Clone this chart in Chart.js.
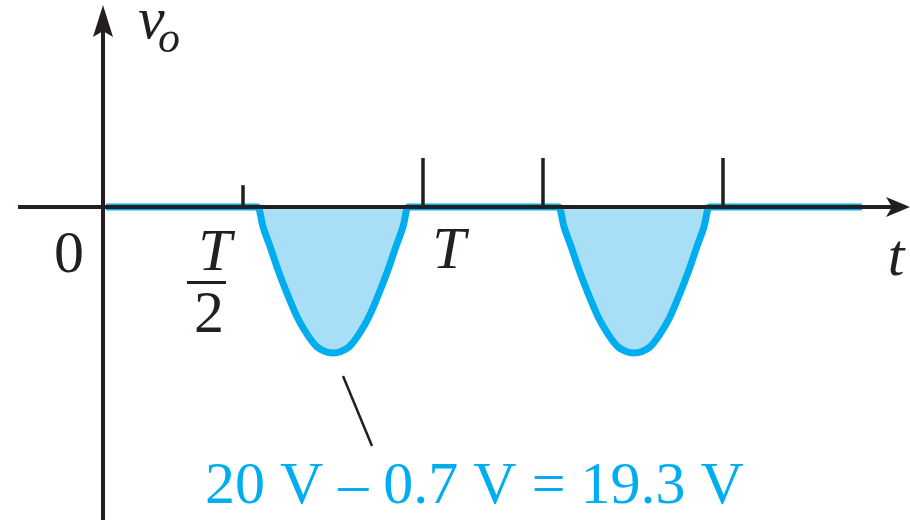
<!DOCTYPE html>
<html>
<head>
<meta charset="utf-8">
<script src="https://cdn.jsdelivr.net/npm/chart.js@4"></script>
<style>
  body { margin: 0; background: #fff; }
  #wrap { width: 910px; height: 520px; }
</style>
</head>
<body>
<div id="wrap"><canvas id="waveChart" width="910" height="520"></canvas></div>
<script>
// output waveform v_o (t in arbitrary units, v in volts)
const times = [3, 155, 160, 167, 175, 184, 194, 204, 214, 222, 230, 238, 246, 256, 266, 276, 285, 293, 300, 305,
               456, 461, 468, 476, 485, 495, 505, 515, 523, 531, 539, 547, 557, 567, 577, 586, 594, 601, 606, 759];
const volts = [0, 0, -2.6, -5.2, -8.3, -11.4, -14.5, -16.8, -18.5, -19.1, -19.3, -19.1, -18.5, -16.8, -14.5, -11.4, -8.3, -5.2, -2.6, 0,
               0, -2.6, -5.2, -8.3, -11.4, -14.5, -16.8, -18.5, -19.1, -19.3, -19.1, -18.5, -16.8, -14.5, -11.4, -8.3, -5.2, -2.6, 0, 0];

// time axis marks
const tickTimes = [140, 320, 440, 620];
const tickTops = [2.9, 6.5, 6.5, 6.5];
const peakTime = 230;
const peakText = '20 V \u2013 0.7 V = 19.3 V';

const points = times.map((t, i) => ({ x: t, y: volts[i] }));

const axesPlugin = {
    id: 'axes',
    afterDatasetsDraw(chart) {
        const ctx = chart.ctx;
        const xs = chart.scales.x, ys = chart.scales.y;
        const x0 = xs.getPixelForValue(0);
        const y0 = ys.getPixelForValue(0);
        const black = '#231f20';
        ctx.save();
        ctx.strokeStyle = black;
        ctx.fillStyle = black;
        ctx.lineWidth = 4;
        ctx.lineCap = 'butt';

        // x axis
        ctx.beginPath();
        ctx.moveTo(18, y0);
        ctx.lineTo(895, y0);
        ctx.stroke();
        ctx.beginPath();
        ctx.moveTo(910, y0);
        ctx.lineTo(886, y0 - 10);
        ctx.lineTo(892, y0);
        ctx.lineTo(886, y0 + 10);
        ctx.closePath();
        ctx.fill();

        // y axis
        ctx.beginPath();
        ctx.moveTo(x0, 520);
        ctx.lineTo(x0, 22);
        ctx.stroke();
        ctx.beginPath();
        ctx.moveTo(x0, 5);
        ctx.lineTo(x0 - 10, 37);
        ctx.lineTo(x0, 31);
        ctx.lineTo(x0 + 10, 37);
        ctx.closePath();
        ctx.fill();

        // ticks
        ctx.lineWidth = 3.5;
        tickTimes.forEach((t, i) => {
            const px = xs.getPixelForValue(t);
            ctx.beginPath();
            ctx.moveTo(px, y0);
            ctx.lineTo(px, ys.getPixelForValue(tickTops[i]));
            ctx.stroke();
        });

        // leader line to the peak
        const pk = xs.getPixelForValue(peakTime);
        ctx.lineWidth = 2.5;
        ctx.beginPath();
        ctx.moveTo(pk + 10, 376);
        ctx.lineTo(pk + 39, 446);
        ctx.stroke();

        // labels
        ctx.textBaseline = 'alphabetic';
        ctx.textAlign = 'left';
        ctx.font = 'italic 60px "Liberation Serif"';
        ctx.fillText('v', 138, 38);
        ctx.font = 'italic 44px "Liberation Serif"';
        ctx.fillText('o', 158, 52);

        ctx.font = '60px "Liberation Serif"';
        ctx.textAlign = 'center';
        ctx.fillText('0', 69, 272);

        const half = xs.getPixelForValue(tickTimes[0]);
        ctx.font = 'italic 60px "Liberation Serif"';
        ctx.fillText('T', half - 28, 270);
        ctx.fillRect(half - 56, 281, 39, 3);
        ctx.font = '60px "Liberation Serif"';
        ctx.fillText('2', half - 34, 332);

        ctx.font = 'italic 60px "Liberation Serif"';
        ctx.fillText('T', xs.getPixelForValue(tickTimes[1]) + 26, 268);
        ctx.fillText('t', 896, 275);

        ctx.fillStyle = '#00aeef';
        ctx.font = '60px "Liberation Serif"';
        ctx.textAlign = 'left';
        ctx.fillText(peakText, 205, 503);
        ctx.restore();
    }
};

new Chart(document.getElementById('waveChart').getContext('2d'), {
    type: 'line',
    data: {
        datasets: [{
            data: points,
            borderColor: '#00aeef',
            backgroundColor: '#a9def7',
            borderWidth: 7,
            fill: 'origin',
            pointRadius: 0,
            cubicInterpolationMode: 'monotone',
            borderJoinStyle: 'round',
            borderCapStyle: 'butt'
        }]
    },
    options: {
        responsive: false,
        animation: false,
        layout: { padding: 0 },
        plugins: { legend: { display: false }, tooltip: { enabled: false } },
        scales: {
            x: { type: 'linear', display: false, min: -103, max: 807 },
            y: { display: false, min: -41.4, max: 27.4 }
        }
    },
    plugins: [axesPlugin]
});
</script>
</body>
</html>
